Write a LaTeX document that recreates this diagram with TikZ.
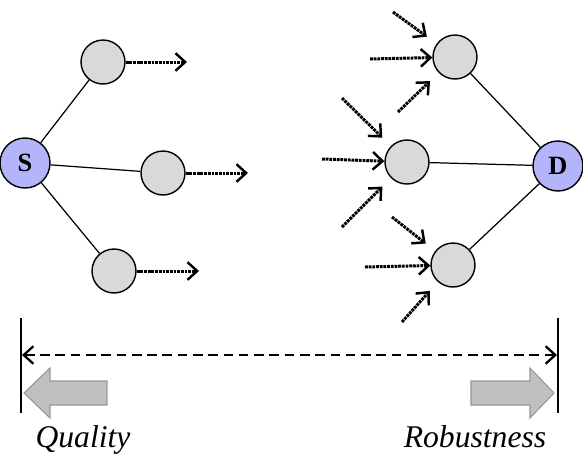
\documentclass[tikz,border=0pt]{standalone}
\usepackage{fontspec}
\setmainfont{Liberation Serif}
\usetikzlibrary{arrows.meta,positioning,calc}

\definecolor{endblue}{RGB}{180,180,250}
\definecolor{relaygray}{RGB}{217,217,217}
\definecolor{bandgray}{RGB}{192,192,192}
\definecolor{bandedge}{RGB}{150,150,150}

\tikzset{
  relay/.style={circle,draw,line width=0.8pt,fill=relaygray,
    minimum size=0.88cm,inner sep=0pt},
  endnode/.style={circle,draw,line width=0.8pt,fill=endblue,
    minimum size=1.0cm,inner sep=0pt,font=\bfseries\fontsize{15}{15}\selectfont},
  link/.style={line width=0.7pt},
  flow/.style={-{Straight Barb[length=5.5pt,width=10pt,line width=1.4pt]},
    line width=1.7pt,dash pattern=on 1.6pt off 0.5pt},
  inflow/.style={flow,shorten >=0.24cm},
  span/.style={{Straight Barb[length=5.5pt,width=10pt,line width=1.3pt]}-{Straight Barb[length=5.5pt,width=10pt,line width=1.3pt]},
    line width=1.4pt,dash pattern=on 5.5pt off 3.2pt},
  band/.style={fill=bandgray,draw=bandedge,line width=0.6pt},
  tag/.style={font=\itshape\fontsize{18}{20}\selectfont,anchor=base}
}

\begin{document}
\begin{tikzpicture}[x=0.02cm,y=-0.02cm]
\useasboundingbox (0,0) rectangle (583,458);

% source side
\node[endnode] (S) at (25,163) {S};
\node[relay] (a1) at (103,62) {};
\node[relay] (a2) at (163,173) {};
\node[relay] (a3) at (114,271) {};
\draw[link] (S) -- (a1);
\draw[link] (S) -- (a2);
\draw[link] (S) -- (a3);
\draw[flow] (a1) -- ++(84,0);
\draw[flow] (a2) -- ++(85,0);
\draw[flow] (a3) -- ++(85,0);

% destination side
\node[endnode] (D) at (558,166) {D};
\node[relay] (t1) at (455,57) {};
\node[relay] (m1) at (407,162) {};
\node[relay] (b1) at (453,265) {};
\draw[link] (t1) -- (D);
\draw[link] (m1) -- (D);
\draw[link] (b1) -- (D);

\draw[inflow] ($(t1)+(-62,-45)$) -- (t1);
\draw[flow] ($(t1)+(-85,2)$) -- (t1);
\draw[inflow] ($(t1)+(-57,55)$) -- (t1);

\draw[inflow] ($(m1)+(-65,-64)$) -- (m1);
\draw[flow] ($(m1)+(-85,-3)$) -- (m1);
\draw[inflow] ($(m1)+(-65,65)$) -- (m1);

\draw[inflow] ($(b1)+(-61,-48)$) -- (b1);
\draw[flow] ($(b1)+(-88,2)$) -- (b1);
\draw[inflow] ($(b1)+(-51,57)$) -- (b1);

% trade-off scale
\coordinate (ltop) at (21,318);
\coordinate (lbot) at (21,413);
\coordinate (rtop) at (558,318);
\coordinate (rbot) at (558,413);
\draw[line width=0.6pt] (ltop) -- (lbot);
\draw[line width=0.6pt] (rtop) -- (rbot);
\coordinate (lend) at (22,355);
\coordinate (rend) at (557,355);
\draw[span] (lend) -- (rend);

\draw[band] (24,393) -- (50,368) -- (50,381) -- (107,381) -- (107,405)
  -- (50,405) -- (50,418) -- cycle;
\draw[band] (554,393) -- (530,368) -- (530,381) -- (471,381) -- (471,405)
  -- (530,405) -- (530,418) -- cycle;

\node[tag] (qual) at (83,447) {Quality};
\node[tag] (robu) at (475,447) {Robustness};
\end{tikzpicture}
\end{document}
